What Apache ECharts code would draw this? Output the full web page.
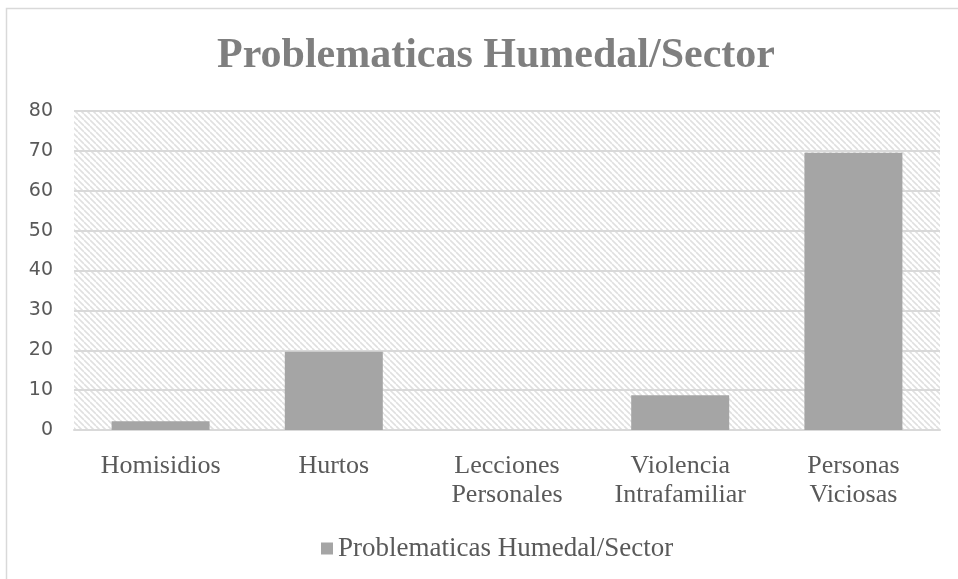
<!DOCTYPE html>
<html>
<head>
<meta charset="utf-8">
<script src="https://cdn.jsdelivr.net/npm/echarts@6/dist/echarts.min.js"></script>
<style>
    html, body { margin: 0; padding: 0; background: #fff; }
    #chart { width: 958px; height: 579px; }
</style>
</head>
<body>
<div id="chart"></div>
<script>
    var categorias = ['Homisidios', 'Hurtos', 'Lecciones\nPersonales', 'Violencia\nIntrafamiliar', 'Personas\nViciosas'];
    var valores = [2.2, 19.6, 0, 8.7, 69.5];
    var nombreSerie = 'Problematicas Humedal/Sector';
    var yMin = 0, yMax = 80, yPaso = 10;

    // trama diagonal del fondo del area de grafico
    function crearTrama() {
        var c = document.createElement('canvas');
        c.width = 6; c.height = 6;
        var ctx = c.getContext('2d');
        ctx.fillStyle = '#ffffff';
        ctx.fillRect(0, 0, 6, 6);
        ctx.strokeStyle = '#e0e0e0';
        ctx.lineWidth = 1.6;
        ctx.beginPath();
        for (var k = -6; k <= 6; k += 6) {
            ctx.moveTo(k, 0);
            ctx.lineTo(k + 6, 6);
        }
        ctx.stroke();
        return c;
    }

    var grafico = echarts.init(document.getElementById('chart'));
    grafico.setOption({
        animation: false,
        backgroundColor: '#ffffff',
        graphic: [{
            type: 'rect',
            shape: { x: 6.5, y: 8.5, width: 960, height: 580 },
            style: { fill: 'none', stroke: '#d9d9d9', lineWidth: 1.5 },
            silent: true
        }],
        title: {
            text: nombreSerie,
            left: 212,
            top: 30,
            textStyle: {
                fontFamily: 'Liberation Serif',
                fontWeight: 'bold',
                fontSize: 42,
                color: '#7f7f7f'
            }
        },
        legend: {
            bottom: 12,
            left: 316,
            itemWidth: 12,
            itemHeight: 12,
            itemGap: 6,
            icon: 'rect',
            data: [nombreSerie],
            textStyle: {
                fontFamily: 'Liberation Serif',
                fontSize: 27,
                color: '#595959'
            }
        },
        grid: {
            left: 74,
            right: 18,
            top: 111,
            bottom: 149,
            show: true,
            borderWidth: 0,
            backgroundColor: { image: crearTrama(), repeat: 'repeat' }
        },
        xAxis: {
            type: 'category',
            data: categorias,
            axisLine: { lineStyle: { color: '#d9d9d9', width: 2 } },
            axisTick: { show: false },
            axisLabel: {
                margin: 22,
                lineHeight: 29,
                fontFamily: 'Liberation Serif',
                fontSize: 26,
                color: '#595959'
            }
        },
        yAxis: {
            type: 'value',
            min: yMin,
            max: yMax,
            interval: yPaso,
            axisLine: { show: false },
            axisTick: { show: false },
            splitLine: { lineStyle: { color: '#d9d9d9', width: 2 } },
            axisLabel: {
                margin: 21,
                fontFamily: 'DejaVu Sans',
                fontSize: 19,
                color: '#595959'
            }
        },
        series: [{
            name: nombreSerie,
            type: 'bar',
            data: valores,
            barWidth: 98,
            itemStyle: { color: '#a5a5a5' }
        }]
    });
</script>
</body>
</html>
